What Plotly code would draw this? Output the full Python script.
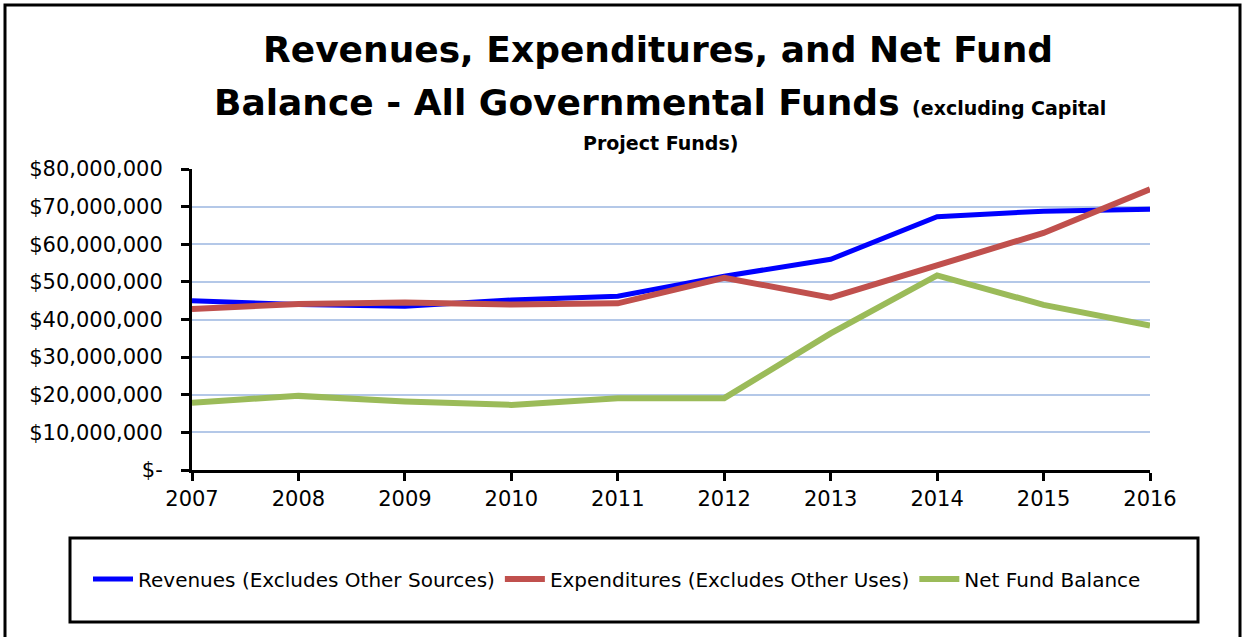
import plotly.graph_objects as go

years = [2007, 2008, 2009, 2010, 2011, 2012, 2013, 2014, 2015, 2016]
revenues = [45.0e6, 44.0e6, 43.5e6, 45.2e6, 46.2e6, 51.5e6, 56.0e6, 67.3e6, 68.8e6, 69.3e6]
expenditures = [42.8e6, 44.1e6, 44.5e6, 44.0e6, 44.3e6, 51.1e6, 45.8e6, 54.5e6, 63.0e6, 74.6e6]
net_balance = [17.9e6, 19.7e6, 18.2e6, 17.3e6, 19.1e6, 19.1e6, 36.3e6, 51.7e6, 43.9e6, 38.4e6]

y_tickvals = [0, 10e6, 20e6, 30e6, 40e6, 50e6, 60e6, 70e6, 80e6]
y_ticktext = ["$-", "$10,000,000", "$20,000,000", "$30,000,000", "$40,000,000",
              "$50,000,000", "$60,000,000", "$70,000,000", "$80,000,000"]

series_names = ["Revenues (Excludes Other Sources)", "Expenditures (Excludes Other Uses)", "Net Fund Balance"]
colors = ["#0000ff", "#c0504d", "#9bbb59"]
widths = [5, 6, 6]

FONT = "DejaVu Sans"

fig = go.Figure()
for name, vals, c, w in zip(series_names, [revenues, expenditures, net_balance], colors, widths):
    fig.add_trace(go.Scatter(x=years, y=vals, mode="lines", name=name,
                             line=dict(color=c, width=w)))

W, H = 1244, 637
L, R, T, B = 192, 94, 169, 167
pw = W - L - R
ph = H - T - B

def px(x):
    return (x - L) / pw

def py(y):
    return (H - B - y) / ph

fig.update_layout(
    width=W, height=H,
    margin=dict(l=L, r=R, t=T, b=B),
    paper_bgcolor="white", plot_bgcolor="white",
    font=dict(family=FONT, size=18, color="black"),
    showlegend=True,
    legend=dict(orientation="h", x=px(88), xanchor="left", y=py(579), yanchor="middle",
                font=dict(family=FONT, size=20), bgcolor="rgba(0,0,0,0)",
                itemwidth=40, tracegroupgap=0),
    xaxis=dict(range=[2007, 2016], tickmode="array", tickvals=years,
               ticktext=[str(y) for y in years],
               showline=True, linecolor="black", linewidth=3,
               ticks="outside", ticklen=8, tickwidth=3, tickcolor="black",
               showgrid=False, zeroline=False,
               tickfont=dict(family=FONT, size=21)),
    yaxis=dict(range=[0, 80e6], tickmode="array", tickvals=y_tickvals, ticktext=y_ticktext,
               showline=True, linecolor="black", linewidth=3,
               ticks="outside", ticklen=8, tickwidth=3, tickcolor="black",
               showgrid=True, gridcolor="#b4c8e8", gridwidth=1.5, zeroline=False,
               ticklabelstandoff=14,
               tickfont=dict(family=FONT, size=21)),
    shapes=[
        dict(type="rect", xref="paper", yref="paper",
             x0=px(5), x1=px(1240), y0=py(5), y1=py(640),
             line=dict(color="black", width=3), fillcolor="rgba(0,0,0,0)", layer="below"),
        dict(type="rect", xref="paper", yref="paper",
             x0=px(70), x1=px(1198), y0=py(538), y1=py(622),
             line=dict(color="black", width=3), fillcolor="rgba(0,0,0,0)", layer="below"),
    ],
    annotations=[
        dict(text="<b>Revenues, Expenditures, and Net Fund</b>", xref="paper", yref="paper",
             x=px(658), y=py(49), xanchor="center", yanchor="middle", showarrow=False,
             font=dict(family=FONT, size=36, color="black")),
        dict(text="<b>Balance - All Governmental Funds <span style='font-size:19px'>(excluding Capital</span></b>",
             xref="paper", yref="paper",
             x=px(660), y=py(102), xanchor="center", yanchor="middle", showarrow=False,
             font=dict(family=FONT, size=36, color="black")),
        dict(text="<b>Project Funds)</b>", xref="paper", yref="paper",
             x=px(660), y=py(143), xanchor="center", yanchor="middle", showarrow=False,
             font=dict(family=FONT, size=19, color="black")),
    ],
)

fig.write_html("out.html", config={"displayModeBar": False},
               post_script="document.body.style.margin='0';document.body.style.overflow='hidden';")
